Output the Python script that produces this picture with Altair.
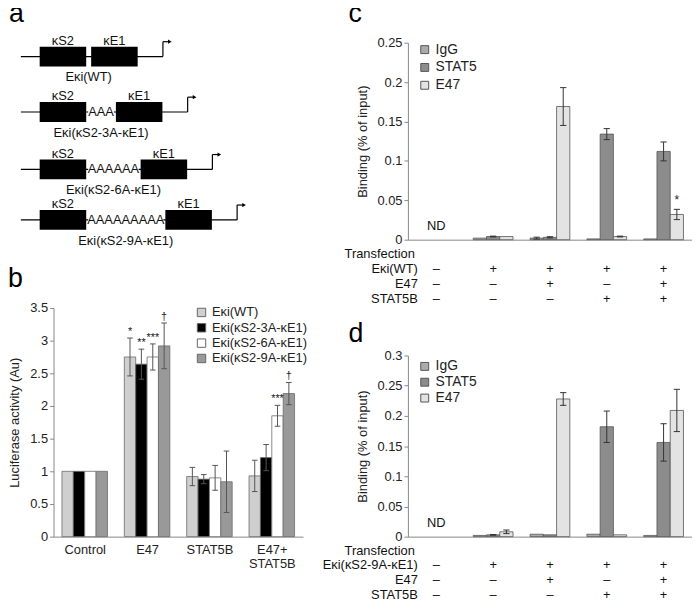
import json
import altair as alt
import pandas as pd

FONT = "Liberation Sans"

# ---------------- panel a : reporter constructs ----------------
a_names = ["Eκi(WT)", "Eκi(κS2-3A-κE1)", "Eκi(κS2-6A-κE1)", "Eκi(κS2-9A-κE1)"]
a_spacers = ["", "AAA", "AAAAAA", "AAAAAAAAA"]

# ---------------- panel b : luciferase assay ----------------
b_conditions = ["Control", "E47", "STAT5B", "E47+ STAT5B"]
b_constructs = a_names
b_wt = [1.00, 2.75, 0.92, 0.93]
b_3a = [1.00, 2.64, 0.88, 1.21]
b_6a = [1.00, 2.75, 0.90, 1.85]
b_9a = [1.00, 2.92, 0.84, 2.19]
b_wt_err = [0.0, 0.29, 0.14, 0.24]
b_3a_err = [0.0, 0.23, 0.07, 0.20]
b_6a_err = [0.0, 0.20, 0.19, 0.16]
b_9a_err = [0.0, 0.35, 0.47, 0.17]
b_wt_sig = ["", "*", "", ""]
b_3a_sig = ["", "**", "", ""]
b_6a_sig = ["", "***", "", "***"]
b_9a_sig = ["", "†", "", "†"]

# ---------------- panels c, d : ChIP ----------------
chip_groups = [0, 1, 2, 3, 4]
chip_antibodies = ["IgG", "STAT5", "E47"]
row_reporter = ["–", "+", "+", "+", "+"]
row_e47 = ["–", "–", "+", "–", "+"]
row_stat5b = ["–", "–", "–", "+", "+"]

c_igg = [None, 0.002, 0.002, 0.001, 0.001]
c_stat5 = [None, 0.004, 0.003, 0.134, 0.112]
c_e47 = [None, 0.004, 0.169, 0.004, 0.032]
c_igg_err = [0, 0, 0.0012, 0, 0]
c_stat5_err = [0, 0.0005, 0.0008, 0.007, 0.012]
c_e47_err = [0, 0, 0.024, 0.0005, 0.0065]
c_e47_sig = ["", "", "", "", "*"]
c_table_labels = ["Eκi(WT)", "E47", "STAT5B"]

d_igg = [None, 0.002, 0.004, 0.004, 0.002]
d_stat5 = [None, 0.003, 0.003, 0.182, 0.156]
d_e47 = [None, 0.008, 0.228, 0.003, 0.209]
d_igg_err = [0, 0, 0, 0, 0]
d_stat5_err = [0, 0.0005, 0, 0.026, 0.031]
d_e47_err = [0, 0.003, 0.0105, 0, 0.035]
d_e47_sig = ["", "", "", "", ""]
d_table_labels = ["Eκi(κS2-9A-κE1)", "E47", "STAT5B"]

B_COLORS = ["#cfcfcf", "#000000", "#ffffff", "#999999"]
CHIP_COLORS = ["#ababab", "#8c8c8c", "#e3e3e3"]


def letter(ch, x, y):
    return alt.Chart(pd.DataFrame({"t": [ch]})).mark_text(
        fontSize=27, align="left", baseline="alphabetic", color="#000"
    ).encode(x=alt.value(x), y=alt.value(y), text="t:N")


# ---------------- panel a ----------------
A_TOP, A_BOTTOM = 43, 252


def panel_a():
    row_y = [57, 113, 171, 222]
    box_w, half_h, start, b1 = 47, 10, 20, 39
    segs, boxes, texts, heads = [], [], [], []
    for name, sp, y in zip(a_names, a_spacers, row_y):
        gap = 5 + 8.33 * len(sp)
        b2 = b1 + box_w + gap
        arrow_x = b2 + box_w + 25.5
        top = y - 15
        boxes += [dict(x=b1, x2=b1 + box_w, y=y - half_h, y2=y + half_h),
                  dict(x=b2, x2=b2 + box_w, y=y - half_h, y2=y + half_h)]
        if sp:
            segs += [dict(x=start, x2=b1 + box_w + 2, y=y, y2=y),
                     dict(x=b2 - 2, x2=arrow_x, y=y, y2=y)]
            texts.append(dict(x=(b1 + box_w + b2) / 2, y=y, t=sp))
        else:
            segs.append(dict(x=start, x2=arrow_x, y=y, y2=y))
        segs += [dict(x=arrow_x, x2=arrow_x, y=y, y2=top),
                 dict(x=arrow_x, x2=arrow_x + 6, y=top, y2=top)]
        heads.append(dict(x=arrow_x + 7, y=top))
        texts += [dict(x=b1 + box_w / 2, y=y - 16, t="κS2"),
                  dict(x=b2 + box_w / 2, y=y - 16, t="κE1"),
                  dict(x=(b1 + b2 + box_w) / 2, y=y + 21, t=name)]
    xs = alt.Scale(domain=[53, 305], nice=False, zero=False)
    ys = alt.Scale(domain=[A_TOP, A_BOTTOM], nice=False, zero=False, reverse=True)
    seg = alt.Chart(pd.DataFrame(segs)).mark_rule(color="#000", strokeWidth=1.2).encode(
        x=alt.X("x:Q", scale=xs, axis=None), x2="x2:Q",
        y=alt.Y("y:Q", scale=ys, axis=None), y2="y2:Q")
    box = alt.Chart(pd.DataFrame(boxes)).mark_rect(color="#000").encode(
        x=alt.X("x:Q", scale=xs, axis=None), x2="x2:Q",
        y=alt.Y("y:Q", scale=ys, axis=None), y2="y2:Q")
    head = alt.Chart(pd.DataFrame(heads)).mark_point(
        shape="triangle-right", filled=True, size=18, color="#000", opacity=1).encode(
        x=alt.X("x:Q", scale=xs, axis=None), y=alt.Y("y:Q", scale=ys, axis=None))
    txt = alt.Chart(pd.DataFrame(texts)).mark_text(
        baseline="middle", align="center", color="#111", fontSize=13).encode(
        x=alt.X("x:Q", scale=xs, axis=None), y=alt.Y("y:Q", scale=ys, axis=None),
        text="t:N")
    return alt.layer(seg, box, head, txt, letter("a", -45, 22 - A_TOP)).properties(
        width=252, height=A_BOTTOM - A_TOP)


# ---------------- panel b ----------------
def panel_b():
    rows = []
    series = [(b_wt, b_wt_err, b_wt_sig), (b_3a, b_3a_err, b_3a_sig),
              (b_6a, b_6a_err, b_6a_sig), (b_9a, b_9a_err, b_9a_sig)]
    bw = 0.73 / 4
    cw = 0.045
    for k, (name, (vals, errs, sigs)) in enumerate(zip(b_constructs, series)):
        for ci, (v, e, s) in enumerate(zip(vals, errs, sigs)):
            xc = ci + (k - 1.5) * bw
            rows.append(dict(construct=name, xc=xc, x0=xc - bw / 2, x1=xc + bw / 2,
                             c0=xc - cw, c1=xc + cw, value=v, base=0.0,
                             lo=v - e, hi=v + e, err=e, sig=s))
    df = pd.DataFrame(rows)
    lab = "split(" + json.dumps(b_conditions) + "[datum.value], ' ')"
    xs = alt.Scale(domain=[-0.5, 3.5], nice=False, zero=False)
    xax = alt.Axis(title=None, values=[0, 1, 2, 3], labelExpr=lab, ticks=False, labelPadding=7,
                   labelLineHeight=14, labelAngle=0)
    ys = alt.Scale(domain=[0, 3.5], nice=False)
    yax = alt.Axis(title="Luciferase activity (Au)", values=[0, 0.5, 1, 1.5, 2, 2.5, 3, 3.5],
                   format=".1~f", tickSize=4, titlePadding=8)

    def X(f):
        return alt.X(f, scale=xs, axis=xax)

    def Y(f):
        return alt.Y(f, scale=ys, axis=yax)

    bars = alt.Chart(df).mark_rect(stroke="#6a6a6a", strokeWidth=0.8).encode(
        x=X("x0:Q"), x2="x1:Q", y=Y("value:Q"), y2="base:Q",
        color=alt.Color("construct:N", scale=alt.Scale(domain=b_constructs, range=B_COLORS),
                        legend=alt.Legend(title=None, orient="none", legendX=143, legendY=-2,
                                          symbolType="square", symbolSize=72,
                                          symbolStrokeColor="#666", symbolStrokeWidth=1,
                                          labelFontSize=13, rowPadding=1.5, labelOffset=4,
                                          labelColor="#222")))
    dfe = df[df.err > 0]
    rule = alt.Chart(dfe).mark_rule(color="#555", strokeWidth=1).encode(
        x=X("xc:Q"), y=Y("lo:Q"), y2="hi:Q")
    cap_lo = alt.Chart(dfe).mark_rule(color="#555", strokeWidth=1).encode(
        x=X("c0:Q"), x2="c1:Q", y=Y("lo:Q"))
    cap_hi = alt.Chart(dfe).mark_rule(color="#555", strokeWidth=1).encode(
        x=X("c0:Q"), x2="c1:Q", y=Y("hi:Q"))
    sig = alt.Chart(df[df.sig != ""]).mark_text(baseline="bottom", dy=-1, fontSize=11, color="#222").encode(
        x=X("xc:Q"), y=Y("hi:Q"), text="sig:N")
    return alt.layer(bars, rule, cap_lo, cap_hi, sig, letter("b", -46, -21)).properties(
        width=252, height=231)


# ---------------- panels c / d ----------------
def panel_chip(ch, vals, errs, e47_sig, table_labels, ymax, height, legend_y, row_pad, offs, letter_y):
    rows = []
    bw = 0.70 / 3
    cw = 0.055
    for k, (ab, v_list, e_list) in enumerate(zip(chip_antibodies, vals, errs)):
        for g, v, e in zip(chip_groups, v_list, e_list):
            if v is None:
                continue
            s = e47_sig[g] if ab == "E47" else ""
            xc = g + (k - 1) * bw
            rows.append(dict(antibody=ab, xc=xc, x0=xc - bw / 2, x1=xc + bw / 2,
                             c0=xc - cw, c1=xc + cw, value=v, base=0.0,
                             lo=v - e, hi=v + e, err=e, sig=s))
    df = pd.DataFrame(rows)
    xs = alt.Scale(domain=[-0.5, 4.5], nice=False, zero=False)
    xax = alt.Axis(title=None, labels=False, ticks=False, values=[0, 1, 2, 3, 4])
    ticks = [round(0.05 * k, 2) for k in range(int(round(ymax / 0.05)) + 1)]
    ys = alt.Scale(domain=[0, ymax], nice=False)
    yax = alt.Axis(title="Binding (% of input)", values=ticks, format=".2~f", tickSize=4, titlePadding=8)

    def X(f):
        return alt.X(f, scale=xs, axis=xax)

    def Y(f):
        return alt.Y(f, scale=ys, axis=yax)

    bars = alt.Chart(df).mark_rect(stroke="#555", strokeWidth=0.8).encode(
        x=X("x0:Q"), x2="x1:Q", y=Y("value:Q"), y2="base:Q",
        color=alt.Color("antibody:N", scale=alt.Scale(domain=chip_antibodies, range=CHIP_COLORS),
                        legend=alt.Legend(title=None, orient="none", legendX=10, legendY=legend_y,
                                          symbolType="square", symbolSize=64,
                                          symbolStrokeColor="#555", symbolStrokeWidth=1,
                                          labelFontSize=14, rowPadding=row_pad, labelOffset=4,
                                          labelColor="#222")))
    dfe = df[df.err > 0]
    rule = alt.Chart(dfe).mark_rule(color="#333", strokeWidth=1).encode(
        x=X("xc:Q"), y=Y("lo:Q"), y2="hi:Q")
    cap_lo = alt.Chart(dfe).mark_rule(color="#333", strokeWidth=1).encode(
        x=X("c0:Q"), x2="c1:Q", y=Y("lo:Q"))
    cap_hi = alt.Chart(dfe).mark_rule(color="#333", strokeWidth=1).encode(
        x=X("c0:Q"), x2="c1:Q", y=Y("hi:Q"))
    layers = [bars, rule, cap_lo, cap_hi]
    dfs = df[df.sig != ""]
    if len(dfs):
        layers.append(alt.Chart(dfs).mark_text(baseline="bottom", dy=-2, fontSize=12, color="#222").encode(
            x=X("xc:Q"), y=Y("hi:Q"), text="sig:N"))
    layers.append(alt.Chart(pd.DataFrame({"g": [0], "t": ["ND"]})).mark_text(
        fontSize=13, baseline="middle", color="#111").encode(
        x=X("g:Q"), y=alt.value(height - 14), text="t:N"))
    layers.append(alt.Chart(pd.DataFrame({"t": ["Transfection"]})).mark_text(
        fontSize=13, align="right", baseline="middle", color="#111").encode(
        x=alt.value(7), y=alt.value(height + offs[0]), text="t:N"))
    for lab, signs, off in zip(table_labels, [row_reporter, row_e47, row_stat5b], offs[1:]):
        layers.append(alt.Chart(pd.DataFrame({"g": chip_groups, "sign": signs})).mark_text(
            fontSize=13, baseline="middle", color="#111").encode(
            x=X("g:Q"), y=alt.value(height + off), text="sign:N"))
        layers.append(alt.Chart(pd.DataFrame({"t": [lab]})).mark_text(
            fontSize=13, align="right", baseline="middle", color="#111").encode(
            x=alt.value(10), y=alt.value(height + off), text="t:N"))
    layers.append(letter(ch, -60, letter_y))
    return alt.layer(*layers).properties(width=287, height=height)


pc = panel_chip("c", [c_igg, c_stat5, c_e47], [c_igg_err, c_stat5_err, c_e47_err], c_e47_sig,
                c_table_labels, 0.25, 199, 0, 4, [15, 30, 45, 60], -21)
pd_ = panel_chip("d", [d_igg, d_stat5, d_e47], [d_igg_err, d_stat5_err, d_e47_err], d_e47_sig,
                 d_table_labels, 0.3, 183, 4, 2, [15, 29, 44, 59], -14)

left = alt.vconcat(panel_a(), panel_b(), spacing=16).resolve_scale(
    color="independent", x="independent", y="independent").resolve_legend(color="independent")
right = alt.vconcat(pc, pd_, spacing=14).resolve_scale(
    color="independent", x="independent", y="independent").resolve_legend(color="independent")
chart = alt.hconcat(left, right, spacing=14).properties(
    padding={"left": 0, "top": -11, "right": 0, "bottom": 0}
).resolve_scale(
    color="independent", x="independent", y="independent"
).configure(font=FONT).configure_view(stroke=None).configure_axis(
    domainColor="#888", tickColor="#888", labelColor="#222", titleColor="#222",
    labelFontSize=13, titleFontSize=13, titleFontWeight="normal", grid=False,
    labelFont=FONT, titleFont=FONT
).configure_legend(labelFont=FONT)

chart.save("out.html", embed_options={"renderer": "svg", "actions": False})
